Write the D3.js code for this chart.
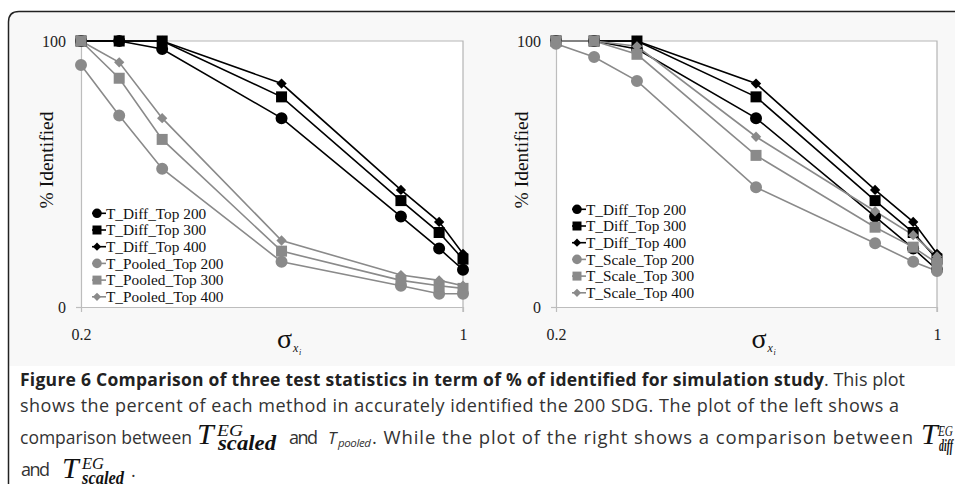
<!DOCTYPE html>
<html><head><meta charset="utf-8">
<script src="https://cdn.jsdelivr.net/npm/d3@7"></script>
<style>body{margin:0;background:#fff}svg{display:block}</style>
</head><body>
<svg id="c" width="955" height="487"></svg>
<script>
// ---- data ----
const xValues = [0.2, 0.28, 0.37, 0.62, 0.87, 0.95, 1.0];
const xTicks = [0.2, 1];
const yTicks = [0, 100];
const diffTop200 = [100, 100, 97, 71, 34, 22, 14];
const diffTop300 = [100, 100, 100, 79, 40, 28, 18];
const diffTop400 = [100, 100, 100, 84, 44, 32, 20];
const pooledTop200 = [91, 72, 52, 17, 8, 5, 5];
const pooledTop300 = [100, 86, 63, 21, 10, 8, 7];
const pooledTop400 = [100, 92, 71, 25, 12, 10, 8];
const scaleTop200 = [99, 94, 85, 45, 24, 17, 13.5];
const scaleTop300 = [100, 100, 95, 57, 30, 22.5, 16.5];
const scaleTop400 = [100, 100, 98, 64, 36, 27, 19];
const leftNames = ["T_Diff_Top 200","T_Diff_Top 300","T_Diff_Top 400","T_Pooled_Top 200","T_Pooled_Top 300","T_Pooled_Top 400"];
const rightNames = ["T_Diff_Top 200","T_Diff_Top 300","T_Diff_Top 400","T_Scale_Top 200","T_Scale_Top 300","T_Scale_Top 400"];

const BLACK = "#000", GREY = "#8a8a8a";
const svg = d3.select("#c");
const serif = "'Liberation Serif','Times New Roman',serif";
const sans = "'Open Sans','Noto Sans',sans-serif";

svg.append("rect").attr("x",9).attr("y",12).attr("width",946).attr("height",354).attr("fill","#f8f8f8");
svg.append("path").attr("d","M955,11.5H19Q8.5,11.5 8.5,22V484")
  .attr("fill","none").attr("stroke","#222").attr("stroke-width",1.5);

const diamond = { draw(ctx, size){ const r = Math.sqrt(size)/2*1.15; ctx.moveTo(0,-r); ctx.lineTo(r,0); ctx.lineTo(0,r); ctx.lineTo(-r,0); ctx.closePath(); } };
const shapes = [d3.symbolCircle, d3.symbolSquare, diamond];
const sizes = [113, 121, 80];
const lsizes = [72, 81, 52];

function panel(cfg){
  const x = d3.scaleLinear().domain([0.2,1]).range([cfg.x0, cfg.x1]);
  const y = d3.scaleLinear().domain([0,100]).range([307,41]);
  const g = svg.append("g");
  g.append("rect").attr("x",x(0.2)).attr("y",y(100)).attr("width",x(1)-x(0.2)).attr("height",y(0)-y(100)).attr("fill","#fff");
  g.append("path").attr("d",`M${x(0.2)},${y(100)}H${x(1)}V${y(0)+5}`).attr("fill","none").attr("stroke","#b5b5b5").attr("stroke-width",1.2);
  const ya = d3.axisLeft(y).tickValues(yTicks).tickSize(5).tickSizeOuter(0).tickPadding(10).tickFormat(d3.format("d"));
  const gy = g.append("g").attr("transform",`translate(${x(0.2)},0)`).call(ya);
  const xa = d3.axisBottom(x).tickValues(xTicks).tickSize(5).tickSizeOuter(0).tickPadding(17).tickFormat(d=>d===1?"1":String(d));
  const gx = g.append("g").attr("transform",`translate(0,${y(0)})`).call(xa);
  [gx,gy].forEach(a=>{
    a.selectAll("path.domain").attr("stroke","#bdbdbd").attr("stroke-width",1.2);
    a.selectAll("line").attr("stroke","#bdbdbd").attr("stroke-width",1.2);
    a.selectAll("text").attr("font-family",serif).attr("font-size",16).attr("fill","#222");
  });
  // titles
  const cx = (x(0.2)+x(1))/2;
  g.append("text").attr("transform",`translate(${cfg.x0-28},160) rotate(-90)`).attr("text-anchor","middle")
    .attr("font-family",serif).attr("font-size",19.5).attr("fill","#111").text("% Identified");
  g.append("text").attr("x",cx+5).attr("y",348).attr("font-family",serif).attr("font-size",28).attr("fill","#111").text("σ");
  g.append("text").attr("x",cx+21).attr("y",352).attr("font-family",serif).attr("font-style","italic").attr("font-size",12).attr("fill","#111").text("x");
  g.append("text").attr("x",cx+27).attr("y",355).attr("font-family",serif).attr("font-style","italic").attr("font-size",8).attr("fill","#111").text("i");
  // series
  const line = d3.line().x((d,i)=>x(xValues[i])).y(d=>y(d));
  cfg.series.forEach((s,k)=>{
    const col = k<3?BLACK:GREY;
    g.append("path").attr("d",line(s)).attr("fill","none").attr("stroke",col).attr("stroke-width",1.6);
  });
  cfg.series.forEach((s,k)=>{
    const col = k<3?BLACK:GREY;
    const sym = d3.symbol().type(shapes[k%3]).size(sizes[k%3]);
    g.selectAll(null).data(s).join("path").attr("d",sym)
      .attr("transform",(d,i)=>`translate(${x(xValues[i])},${y(d)})`).attr("fill",col);
  });
  // legend
  cfg.names.forEach((n,k)=>{
    const col = k<3?BLACK:GREY;
    const ly = cfg.ly + k*16.7;
    g.append("line").attr("x1",cfg.lx-5).attr("x2",cfg.lx+9).attr("y1",ly).attr("y2",ly).attr("stroke",col).attr("stroke-width",1.6);
    g.append("path").attr("d",d3.symbol().type(shapes[k%3]).size(lsizes[k%3])()).attr("transform",`translate(${cfg.lx},${ly})`).attr("fill",col);
    g.append("text").attr("x",cfg.lx+9).attr("y",ly).attr("dy","0.35em").attr("font-family",serif).attr("font-size",15.3).attr("fill","#111").text(n);
  });
}

panel({x0:81, x1:463, series:[diffTop200,diffTop300,diffTop400,pooledTop200,pooledTop300,pooledTop400], names:leftNames, lx:97, ly:213.3});
panel({x0:556, x1:937, series:[diffTop200,diffTop300,diffTop400,scaleTop200,scaleTop300,scaleTop400], names:rightNames, lx:577, ly:209.3});

// ---- caption ----
function txt(s, x, y, o){
  const t = svg.append("text").attr("x",x).attr("y",y).attr("font-family",o.ff||sans).attr("font-size",o.fs||18)
    .attr("fill",o.fill||"#333").text(s);
  if(o.fw) t.attr("font-weight",o.fw);
  if(o.it) t.attr("font-style","italic");
  if(o.len){ t.attr("textLength",o.len).attr("lengthAdjust",o.glyph?"spacingAndGlyphs":"spacing"); }
  return t;
}
txt("Figure 6 Comparison of three test statistics in term of % of identified for simulation study",20,386,{fw:"bold",fs:17.5,fill:"#222",len:804});
txt(". This plot",824,386,{fs:18});
txt("shows the percent of each method in accurately identified the 200 SDG. The plot of the left shows a",20,412,{len:879});
txt("comparison between",20,444,{fs:17.5});
txt("T",197,444,{ff:serif,it:1,fs:30,fill:"#111"});
txt("EG",217,436,{ff:serif,it:1,fs:16,fill:"#111",len:26,glyph:1});
txt("scaled",218,450,{ff:serif,it:1,fw:"bold",fs:20,fill:"#111",len:58,glyph:1});
txt("and",289,444,{len:29});
txt("T",328,444,{it:1,fs:17});
txt("pooled",338,447,{it:1,fs:11.5,len:33});
txt(". While the plot of the right shows a comparison between",372,444,{fs:18.5,len:541});
txt("T",921,444,{ff:serif,it:1,fs:30,fill:"#111"});
txt("EG",938,436,{ff:serif,it:1,fs:14,fill:"#111",len:15,glyph:1});
txt("diff",939,451,{ff:serif,it:1,fw:"bold",fs:16,fill:"#111",len:14,glyph:1});
txt("and",21,476,{len:29});
txt("T",62,478,{ff:serif,it:1,fs:30,fill:"#111"});
txt("EG",82,469,{ff:serif,it:1,fs:16,fill:"#111",len:22,glyph:1});
txt("scaled",82,484,{ff:serif,it:1,fw:"bold",fs:19,fill:"#111",len:42,glyph:1});
txt(".",131,477,{});
</script>
</body></html>
